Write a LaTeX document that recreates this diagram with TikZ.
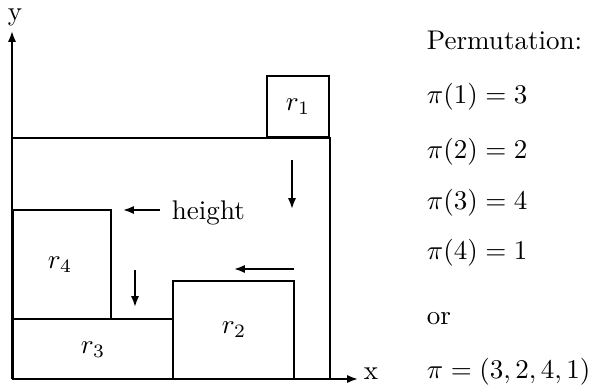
\documentclass[tikz,border=0pt]{standalone}
\usepackage{amsmath}
\usepackage{tikz}
\usetikzlibrary{arrows.meta, positioning}

\begin{document}
\begin{tikzpicture}[>={Latex[length=4pt,width=3pt]}, x=0.37pt, y=-0.37pt, line width=0.7pt]
\useasboundingbox (0,0) rectangle (601,384);

% Axes
\coordinate (O) at (12,379);
\coordinate (Ytip) at (12,31);
\coordinate (Xtip) at (358,379);
\draw[->] (O) -- (Ytip);
\draw[->] (O) -- (Xtip);
\node (ylab) at (15,17) {y};
\node[anchor=west] (xlab) at (354,374) {x};

% Strip outline
\draw (12,138) -- (330,138) -- (330,379);

% Rectangles
\draw (267,76) rectangle (329,137);
\node (r1) at (298,107) {$r_1$};
\draw (13,210) rectangle (111,319);
\node (r4) at (60,265) {$r_4$};
\draw (13,319) rectangle (173,379);
\node (r3) at (93,350) {$r_3$};
\draw (173,281) rectangle (294,379);
\node (r2) at (234,330) {$r_2$};

% Moves
\node[anchor=west] (height) at (162,213) {height};
\coordinate (h1) at (160,210);
\coordinate (h2) at (123,210);
\draw[->] (h1) -- (h2);
\coordinate (d1) at (292,160);
\coordinate (d2) at (292,209);
\draw[->] (d1) -- (d2);
\coordinate (l1) at (294,269);
\coordinate (l2) at (234,269);
\draw[->] (l1) -- (l2);
\coordinate (s1) at (135,270);
\coordinate (s2) at (135,307);
\draw[->] (s1) -- (s2);

% Permutation
\node[anchor=west] (perm) at (417,40) {Permutation:};
\node[anchor=west] (p1) at (417,97) {$\pi(1) = 3$};
\node[anchor=west] (p2) at (417,152) {$\pi(2) = 2$};
\node[anchor=west] (p3) at (417,203) {$\pi(3) = 4$};
\node[anchor=west] (p4) at (417,253) {$\pi(4) = 1$};
\node[anchor=west] (or) at (417,319) {or};
\node[anchor=west] (pall) at (417,372) {$\pi = (3,2,4,1)$};

\end{tikzpicture}
\end{document}
